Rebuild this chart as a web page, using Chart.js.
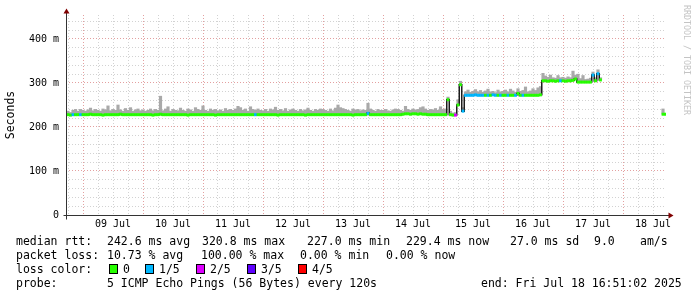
<!DOCTYPE html>
<html>
<head>
<meta charset="utf-8">
<script src="https://cdn.jsdelivr.net/npm/chart.js@4.4.0/dist/chart.umd.min.js"></script>
<style>
  body { margin: 0; background: #fff; }
  #wrap { position: relative; width: 697px; height: 297px; font-family: 'DejaVu Sans Mono', monospace; color: #000; }
  #chart { position: absolute; left: 0; top: 0; }
  .row { position: absolute; left: 0; width: 697px; height: 14px; line-height: 14px; font-size: 11.5px; white-space: pre; }
  .row span { position: absolute; top: 0; }
  .box { position: absolute; top: 2px; width: 7px; height: 8px; border: 1px solid #000; }
  #credit { position: absolute; left: 682px; top: 5px; writing-mode: vertical-rl; font-size: 8.3px; color: #c4c4c4; }
</style>
</head>
<body>
<div id="wrap">
  <canvas id="chart" width="697" height="297"></canvas>
  <div id="credit">RRDTOOL / TOBI OETIKER</div>
  <div class="row" style="top:234px">
    <span style="left:16px">median rtt:</span>
    <span style="left:107px">242.6 ms avg</span>
    <span style="left:202px">320.8 ms max</span>
    <span style="left:307px">227.0 ms min</span>
    <span style="left:406px">229.4 ms now</span>
    <span style="left:510px">27.0 ms sd</span>
    <span style="left:594px">9.0</span>
    <span style="left:640px">am/s</span>
  </div>
  <div class="row" style="top:248px">
    <span style="left:16px">packet loss:</span>
    <span style="left:107px">10.73 % avg</span>
    <span style="left:201px">100.00 % max</span>
    <span style="left:300px">0.00 % min</span>
    <span style="left:386px">0.00 % now</span>
  </div>
  <div class="row" id="lossrow" style="top:262px">
    <span style="left:16px">loss color:</span>
  </div>
  <div class="row" style="top:276px">
    <span style="left:16px">probe:</span>
    <span style="left:107px">5 ICMP Echo Pings (56 Bytes) every 120s</span>
    <span style="left:481px">end: Fri Jul 18 16:51:02 2025</span>
  </div>
</div>
<script>
// first sample is 08 Jul 17:00, x counted in hours from 09 Jul 00:00
const startHour = -7;
const dayLabels = ['09 Jul', '10 Jul', '11 Jul', '12 Jul', '13 Jul', '14 Jul', '15 Jul', '16 Jul', '17 Jul', '18 Jul'];
const yTickValues = [0, 100, 200, 300, 400];
const yTickLabels = ['0', '100 m', '200 m', '300 m', '400 m'];
const lossLabels = ['0', '1/5', '2/5', '3/5', '4/5'];
const lossColors = ['#26ff00', '#00b8ff', '#dd00ff', '#5e00ff', '#ff0000'];

// hourly median rtt (ms)
const median = [
  228,228,227,228,228,228,228,
  228,228,228,229,228,228,228,228,227,228,228,228,228,228,228,229,228,228,228,228,228,228,228,228,
  228,228,228,228,227,228,228,229,228,228,228,228,228,228,228,228,228,228,227,228,228,228,228,228,
  228,228,228,228,228,227,228,228,228,228,228,228,228,228,228,228,228,228,228,228,228,228,228,228,
  228,228,228,228,228,228,227,228,228,228,228,228,228,228,228,228,228,227,228,228,228,228,228,228,
  228,228,228,228,228,228,228,228,228,228,228,228,227,228,228,228,228,228,231,228,228,228,228,228,
  228,228,228,228,228,228,228,228,229,230,230,229,230,230,229,230,229,229,228,228,228,228,228,228,
  228,228,262,228,227,227,250,296,236,272,272,272,272,273,272,272,272,272,272,272,273,272,272,272,
  272,272,272,272,272,272,276,272,272,272,272,272,272,272,272,273,305,305,304,305,305,304,305,305,
  305,304,305,305,306,309,302,302,302,302,302,302,318,305,321,307,
  null,null,null,null,null,null,null,null,null,null,null,null,null,null,null,null,null,null,null,null,null,null,null,null,
  229,229
];

// top of the smoke (ms)
const smokeHi = [
  232,236,233,238,240,236,240,
  238,236,239,243,237,240,238,236,241,239,248,237,240,238,250,239,236,242,238,244,236,239,241,237,
  239,236,238,241,237,240,238,270,237,241,246,236,240,238,237,243,238,236,241,239,236,244,240,238,
  248,238,236,241,238,240,237,239,236,242,238,240,238,241,247,244,238,241,236,246,240,238,241,238,
  237,240,236,241,239,245,238,240,237,242,236,239,241,238,236,240,237,239,243,238,236,240,238,241,
  240,238,236,241,237,243,250,244,242,240,238,236,241,239,240,237,239,238,254,241,238,236,240,238,
  238,240,237,236,239,241,240,238,236,247,240,238,241,239,240,244,246,241,238,240,239,242,238,246,
  240,241,268,236,232,233,262,304,244,280,284,279,281,285,280,283,279,282,286,280,281,278,284,280,
  281,284,280,286,282,279,287,281,283,291,280,282,287,283,289,292,322,316,313,318,312,311,317,312,
  313,311,314,312,327,318,320,310,317,308,309,311,325,312,330,312,
  null,null,null,null,null,null,null,null,null,null,null,null,null,null,null,null,null,null,null,null,null,null,null,null,
  241,231
];

// lost pings out of 5 for each sample
const loss = [
  0,0,0,1,0,0,1,
  0,0,0,0,0,0,0,0,0,0,0,0,0,0,0,0,0,0,0,0,0,0,0,0,
  0,0,0,0,0,0,0,0,0,0,0,0,0,0,0,0,0,0,0,0,0,0,0,0,
  0,0,0,0,0,0,0,0,0,0,0,0,0,0,0,0,0,0,0,0,0,1,0,0,
  0,0,0,0,0,0,0,0,0,0,0,0,0,0,0,0,0,0,0,0,0,0,0,0,
  0,0,0,0,0,0,0,0,0,0,0,0,0,0,0,0,0,0,1,0,0,0,0,0,
  0,0,0,0,0,0,0,0,0,0,0,0,0,0,0,0,0,0,0,0,0,0,0,0,
  0,0,0,0,0,2,0,0,1,1,1,1,1,1,1,1,1,0,1,0,1,1,0,1,
  0,0,1,0,0,1,0,0,1,0,0,0,0,0,0,0,0,0,0,0,0,0,0,1,
  0,0,0,0,0,0,0,0,0,0,0,0,1,0,1,0,
  null,null,null,null,null,null,null,null,null,null,null,null,null,null,null,null,null,null,null,null,null,null,null,null,
  0,0
];

const hours = median.map((v, i) => startHour + i);

// legend boxes for the loss colours
const boxX = [109, 145, 196, 247, 298];
let lossRow = document.getElementById('lossrow');
lossLabels.forEach((lbl, i) => {
  let b = document.createElement('div');
  b.className = 'box';
  b.style.left = boxX[i] + 'px';
  b.style.background = lossColors[i];
  lossRow.appendChild(b);
  let s = document.createElement('span');
  s.style.left = (boxX[i] + 14) + 'px';
  s.textContent = lbl;
  lossRow.appendChild(s);
});

const minorGrid = '#d2d2d2';
const majorGrid = '#e3a0a0';

// axis lines with the little rrdtool arrows
const axisArrows = {
  id: 'axisArrows',
  afterDraw(chart) {
    let ctx = chart.ctx, a = chart.chartArea;
    let x0 = Math.round(a.left) + 0.5, y0 = Math.round(a.bottom) + 0.5;
    ctx.save();
    ctx.strokeStyle = '#333';
    ctx.lineWidth = 1;
    ctx.beginPath();
    ctx.moveTo(x0, y0 + 4); ctx.lineTo(x0, a.top - 3);
    ctx.moveTo(x0 - 3, y0); ctx.lineTo(a.right + 3, y0);
    ctx.stroke();
    ctx.fillStyle = '#800000';
    ctx.beginPath();
    ctx.moveTo(x0, a.top - 6.5); ctx.lineTo(x0 - 3, a.top - 1.5); ctx.lineTo(x0 + 3, a.top - 1.5);
    ctx.closePath(); ctx.fill();
    ctx.beginPath();
    ctx.moveTo(a.right + 7.5, y0); ctx.lineTo(a.right + 2.5, y0 - 3); ctx.lineTo(a.right + 2.5, y0 + 3);
    ctx.closePath(); ctx.fill();
    ctx.restore();
  }
};

Chart.defaults.font.family = "'DejaVu Sans Mono', monospace";
Chart.defaults.color = '#000';

new Chart(document.getElementById('chart'), {
  type: 'bar',
  data: {
    datasets: [
      {
        type: 'line',
        data: median.map((v, i) => ({x: hours[i], y: v})),
        showLine: false,
        pointStyle: 'line',
        pointRadius: 1.4,
        pointBorderWidth: 3,
        pointBorderColor: c => lossColors[loss[c.dataIndex] || 0],
        clip: 0
      },
      {
        type: 'line',
        data: median.map((v, i) => ({x: hours[i], y: v})),
        stepped: 'middle',
        borderColor: '#1c1c1c',
        borderWidth: 1.5,
        pointRadius: 0
      },
      {
        type: 'bar',
        data: median.map((v, i) => ({x: hours[i], y: v == null ? null : [v, smokeHi[i]]})),
        backgroundColor: '#a9a9a9',
        borderWidth: 0,
        barPercentage: 1,
        categoryPercentage: 1
      }
    ]
  },
  options: {
    responsive: false,
    animation: false,
    events: [],
    layout: { padding: { left: 0, top: 15, right: 31, bottom: 62 } },
    plugins: { legend: { display: false }, tooltip: { enabled: false } },
    scales: {
      x: {
        type: 'linear',
        min: -6.8,
        max: 233.2,
        offset: false,
        afterBuildTicks: s => {
          let t = [];
          for (let h = -6; h <= 228; h += 6) t.push({value: h});
          s.ticks = t;
        },
        afterFit: s => { s.height = 20; },
        grid: {
          offset: false,
          drawTicks: false,
          color: c => (c.tick && c.tick.value % 24 === 0) ? majorGrid : minorGrid
        },
        border: { display: false, dash: [1, 2] },
        ticks: {
          autoSkip: false,
          maxRotation: 0,
          padding: 3,
          font: { size: 10 },
          callback: v => (v % 24 === 12) ? dayLabels[(v - 12) / 24] : ''
        }
      },
      y: {
        min: 0,
        max: 454.5,
        afterBuildTicks: s => {
          let t = [];
          for (let v = 0; v <= 440; v += 20) t.push({value: v});
          s.ticks = t;
        },
        afterFit: s => { s.width = 66; },
        grid: {
          drawTicks: false,
          color: c => (c.tick && c.tick.value % 100 === 0) ? majorGrid : minorGrid
        },
        border: { display: false, dash: [1, 2] },
        ticks: {
          autoSkip: false,
          padding: 7,
          font: { size: 10 },
          callback: v => {
            let i = yTickValues.indexOf(v);
            return i >= 0 ? yTickLabels[i] : '';
          }
        },
        title: {
          display: true,
          text: 'Seconds',
          font: { size: 11.5 },
          padding: { top: 4, bottom: 0 }
        }
      }
    }
  },
  plugins: [axisArrows]
});
</script>
</body>
</html>
